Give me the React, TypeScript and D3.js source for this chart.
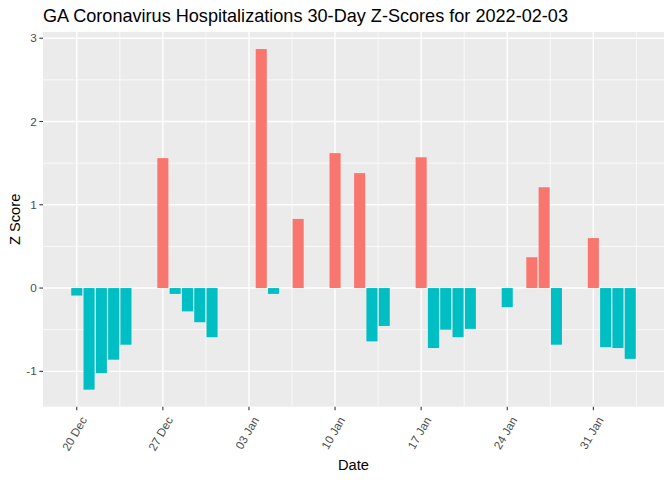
import React from "react";
import * as d3 from "d3";

const dates: string[] = [
  "2021-12-20", "2021-12-21", "2021-12-22", "2021-12-23", "2021-12-24",
  "2021-12-27", "2021-12-28", "2021-12-29", "2021-12-30", "2021-12-31",
  "2022-01-04", "2022-01-05", "2022-01-07", "2022-01-10", "2022-01-12",
  "2022-01-13", "2022-01-14", "2022-01-17", "2022-01-18", "2022-01-19",
  "2022-01-20", "2022-01-21", "2022-01-24", "2022-01-26", "2022-01-27",
  "2022-01-28", "2022-01-31", "2022-02-01", "2022-02-02", "2022-02-03",
];
const zScores: number[] = [
  -0.09, -1.22, -1.02, -0.86, -0.68,
  1.56, -0.07, -0.28, -0.41, -0.59,
  2.87, -0.07, 0.83, 1.62, 1.38,
  -0.64, -0.455, 1.57, -0.72, -0.5,
  -0.59, -0.49, -0.23, 0.37, 1.21,
  -0.68, 0.6, -0.71, -0.72, -0.85,
];
const yTicks: number[] = [-1, 0, 1, 2, 3];
const yMinor: number[] = [-0.5, 0.5, 1.5, 2.5];
const title = "GA Coronavirus Hospitalizations 30-Day Z-Scores for 2022-02-03";

const W = 672, H = 480;
const panel = { left: 43, right: 664, top: 32, bottom: 406.7 };
const DAY = 86400000;
const FONT = "'Liberation Sans', Arial, sans-serif";
const POS = "#F8766D", NEG = "#00BFC4";

export default function App() {
  const parsed = dates.map((d) => new Date(d + "T00:00:00Z"));
  const t0 = d3.min(parsed)!.getTime() - 0.45 * DAY;
  const t1 = d3.max(parsed)!.getTime() + 0.45 * DAY;
  const ex = (t1 - t0) * 0.05;
  const x = d3.scaleUtc().domain([new Date(t0 - ex), new Date(t1 + ex)]).range([panel.left, panel.right]);
  const yMin = Math.min(0, d3.min(zScores)!), yMax = Math.max(0, d3.max(zScores)!);
  const ey = (yMax - yMin) * 0.05;
  const y = d3.scaleLinear().domain([yMin - ey, yMax + ey]).range([panel.bottom, panel.top]);

  const [d0, d1] = x.domain();
  const xTicks = d3.utcMonday.range(d0, d1);
  const fmt = d3.utcFormat("%d %b");
  const xMinor: Date[] = [];
  xTicks.forEach((t, i) => {
    const a = new Date(t.getTime() + 3.5 * DAY);
    if (a < d1) xMinor.push(a);
    if (i === 0) {
      const b = new Date(t.getTime() - 3.5 * DAY);
      if (b > d0) xMinor.push(b);
    }
  });
  const pxDay = x(new Date(t0 + DAY)) - x(new Date(t0));

  return (
    <svg width={W} height={H} style={{ position: "absolute", left: 0, top: 0, background: "#fff" }} fontFamily={FONT}>
      <text x={panel.left} y={21.5} fontSize={18.1} fill="#000">{title}</text>
      <rect x={panel.left} y={panel.top} width={panel.right - panel.left} height={panel.bottom - panel.top} fill="#EBEBEB" />
      {yMinor.map((v) => (
        <line key={"ym" + v} x1={panel.left} x2={panel.right} y1={y(v)} y2={y(v)} stroke="#fff" strokeWidth={0.71} />
      ))}
      {xMinor.map((t) => (
        <line key={"xm" + t.getTime()} x1={x(t)} x2={x(t)} y1={panel.top} y2={panel.bottom} stroke="#fff" strokeWidth={0.71} />
      ))}
      {yTicks.map((v) => (
        <line key={"yM" + v} x1={panel.left} x2={panel.right} y1={y(v)} y2={y(v)} stroke="#fff" strokeWidth={1.42} />
      ))}
      {xTicks.map((t) => (
        <line key={"xM" + t.getTime()} x1={x(t)} x2={x(t)} y1={panel.top} y2={panel.bottom} stroke="#fff" strokeWidth={1.42} />
      ))}
      {parsed.map((d, i) => {
        const v = zScores[i];
        const xl = x(new Date(d.getTime() - 0.45 * DAY));
        return (
          <rect key={"b" + i} x={xl} width={0.9 * pxDay} y={y(Math.max(0, v))} height={Math.abs(y(v) - y(0))} fill={v > 0 ? POS : NEG} />
        );
      })}
      {yTicks.map((v) => (
        <g key={"yt" + v}>
          <line x1={panel.left - 3.67} x2={panel.left} y1={y(v)} y2={y(v)} stroke="#333" strokeWidth={1.07} />
          <text x={panel.left - 6.3} y={y(v)} dy="0.35em" textAnchor="end" fontSize={11.7} fill="#4D4D4D">{v}</text>
        </g>
      ))}
      {xTicks.map((t) => (
        <g key={"xt" + t.getTime()}>
          <line x1={x(t)} x2={x(t)} y1={panel.bottom} y2={panel.bottom + 3.67} stroke="#333" strokeWidth={1.07} />
          <text transform={`translate(${x(t) + 7},${panel.bottom + 11}) rotate(-60)`} dy="0.35em" textAnchor="end" fontSize={11.7} fill="#4D4D4D">{fmt(t)}</text>
        </g>
      ))}
      <text x={(panel.left + panel.right) / 2} y={470} textAnchor="middle" fontSize={14.67} fill="#000">Date</text>
      <text transform={`translate(19.5,${(panel.top + panel.bottom) / 2}) rotate(-90)`} textAnchor="middle" fontSize={14.67} fill="#000">Z Score</text>
    </svg>
  );
}
